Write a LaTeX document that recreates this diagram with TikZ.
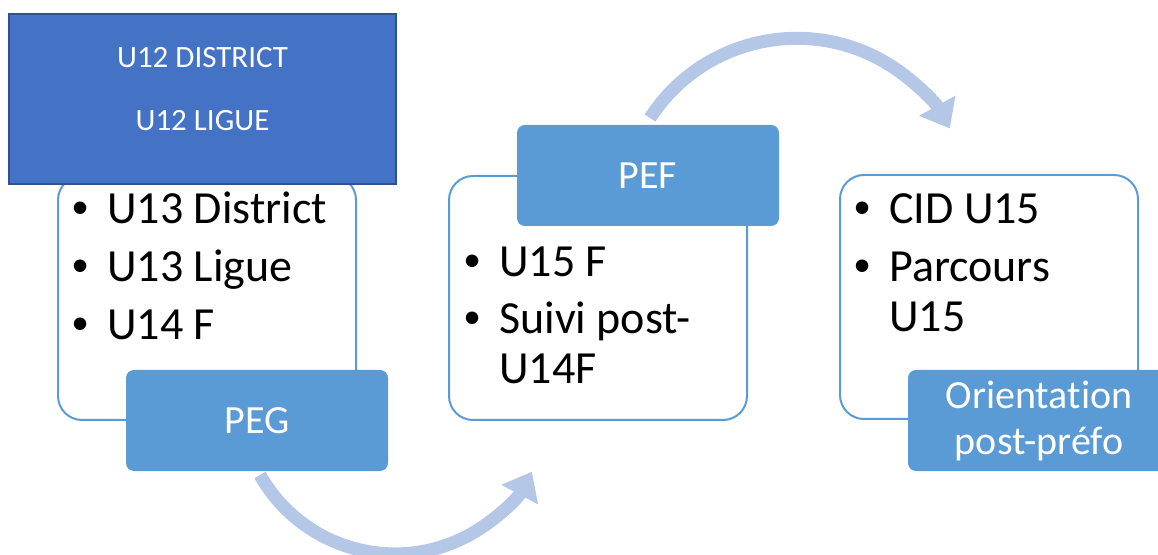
\documentclass[tikz,border=0pt]{standalone}
\usepackage{fontspec}
\setmainfont{Carlito}[Ligatures=NoCommon]
\newfontfamily\bulfont{Liberation Sans}
\usetikzlibrary{arrows.meta,positioning}
\definecolor{darkblue}{HTML}{4472C4}
\definecolor{darkedge}{HTML}{2F528F}
\definecolor{midblue}{HTML}{5B9BD5}
\definecolor{paleblue}{HTML}{B4C7E7}
\newcommand\bul{\makebox[35pt][l]{\bulfont\textbullet}}
\newcommand\cont{\hspace*{35pt}}
\tikzstyle{panel} = [draw=midblue, line width=2pt, fill=white, rounded corners=24pt, minimum width=298pt, minimum height=244pt]
\tikzstyle{tag} = [fill=midblue, rounded corners=8pt, minimum width=262pt, minimum height=101pt, text=white, align=center, font=\fontsize{40}{46}\selectfont]
\tikzstyle{items} = [inner sep=0pt, align=left, anchor=base west, font=\fontsize{46}{50}\selectfont]
\tikzstyle{loop} = [paleblue, line width=13pt, -{Triangle[length=26pt,width=40pt]}]

\begin{document}
\begin{tikzpicture}[x=1pt,y=1pt]
	\clip (0,0) rectangle (1158,554);
	% curved arrows behind the boxes
	\coordinate (bendA) at (260,79);
	\coordinate (bendB) at (650,436);
	\draw[loop] (bendA) arc[start angle=209.4, end angle=332, radius=155];
	\draw[loop] (bendB) arc[start angle=147, end angle=29, radius=175];
	% white panels
	\node[panel] (peg box) at (207,256) {};
	\node[panel] (pef box) at (598,256) {};
	\node[panel] (orient box) at (989,257) {};
	% lists (base = last line)
	\node[items] (peg list) at ([xshift=15pt,yshift=-165pt]peg box.north west)
		{\bul U13 District\\[8pt]\bul U13 Ligue\\[8pt]\bul U14 F};
	\node[items] (pef list) at ([xshift=16pt,yshift=-209pt]pef box.north west)
		{\bul U15 F\\[7pt]\bul Suivi post-\\\cont U14F};
	\node[items] (orient list) at ([xshift=15pt,yshift=-158pt]orient box.north west)
		{\bul CID U15\\[8pt]\bul Parcours\\\cont U15};
	% blue tags
	\node[tag] (peg) at (257,133.5) {PEG};
	\node[tag] (pef) at (648,378.5) {PEF};
	\node[tag] (orient) at (1039,133.5) {Orientation\\post-préfo};
	% top left box
	\node[fill=darkblue, draw=darkedge, line width=2pt, minimum width=387pt, minimum height=170pt] (u12) at (202.5,455) {};
	\node[text=white, align=center, font=\fontsize{31}{63}\selectfont] (u12 text) at ([yshift=10pt]u12.center) {U12 DISTRICT\\U12 LIGUE};
\end{tikzpicture}
\end{document}
